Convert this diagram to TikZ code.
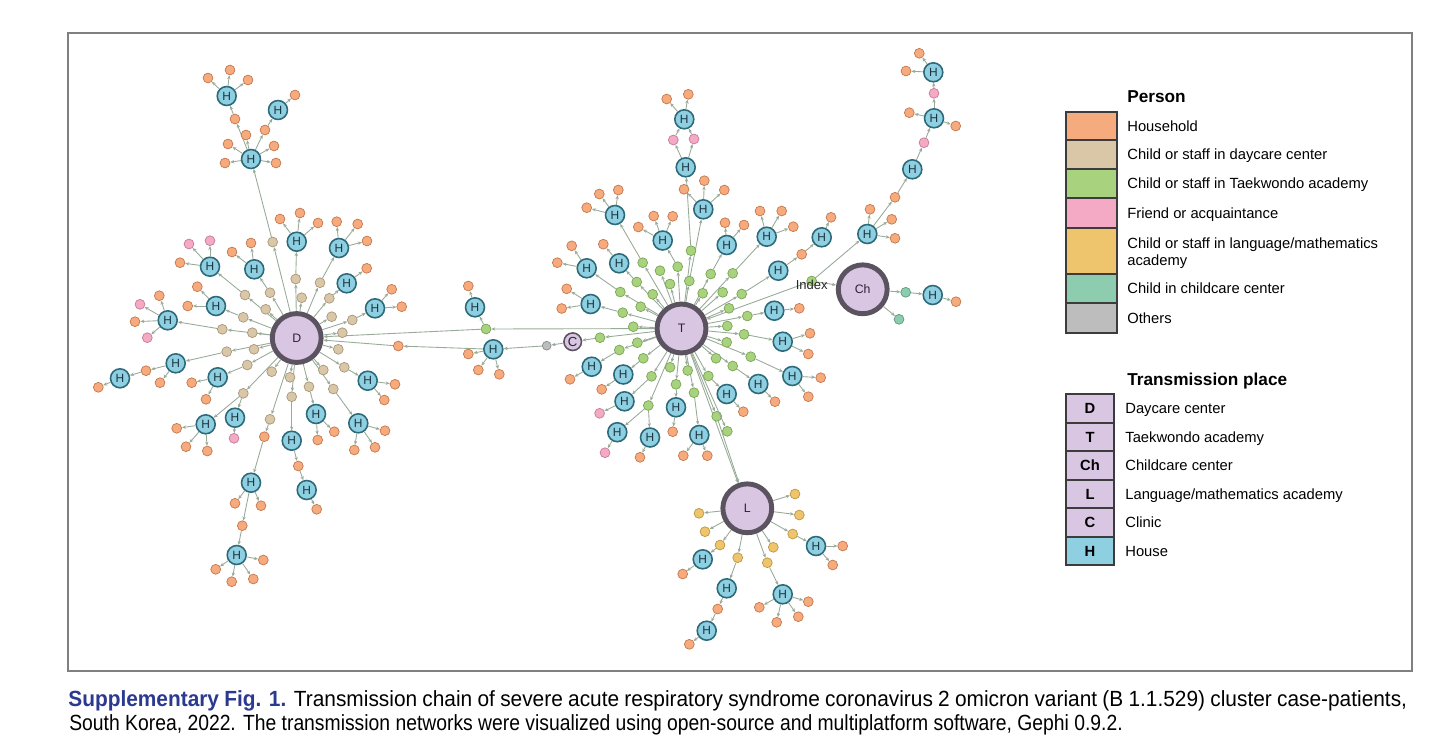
\documentclass[tikz,border=0pt]{standalone}
\usepackage{fontspec}
\setmainfont{Liberation Sans}
\newfontfamily\legfont[FakeStretch=0.88]{Liberation Sans}
\newfontfamily\legfontb[FakeStretch=0.95]{Liberation Sans}
\usetikzlibrary{arrows.meta,backgrounds}
%Cores
\definecolor{hhfill}{HTML}{F5AB7E}\definecolor{hhdraw}{HTML}{C7784C}
\definecolor{dcfill}{HTML}{D9C7A8}\definecolor{dcdraw}{HTML}{A8977A}
\definecolor{tkfill}{HTML}{A8D27E}\definecolor{tkdraw}{HTML}{7AA653}
\definecolor{frfill}{HTML}{F4A9C5}\definecolor{frdraw}{HTML}{C67B98}
\definecolor{lmfill}{HTML}{EEC56C}\definecolor{lmdraw}{HTML}{BE9741}
\definecolor{ccfill}{HTML}{8DCCAF}\definecolor{ccdraw}{HTML}{5A9C80}
\definecolor{otfill}{HTML}{BDBDBD}\definecolor{otdraw}{HTML}{8C8C8C}
\definecolor{casafill}{HTML}{8ED0E1}\definecolor{casadraw}{HTML}{2D6A79}\definecolor{casatxt}{HTML}{1B3440}
\definecolor{lugarfill}{HTML}{D8C6E2}\definecolor{lugardraw}{HTML}{5B5460}\definecolor{lugartxt}{HTML}{2B2233}
\definecolor{arestacor}{HTML}{98AA98}
\definecolor{caixacor}{HTML}{3C3C3C}
\definecolor{moldura}{HTML}{808080}
\definecolor{navy}{HTML}{2B3990}
\tikzset{
  pessoa/.style={circle, inner sep=0pt, minimum size=5.6pt, line width=0.4pt},
  hhold/.style={pessoa, fill=hhfill, draw=hhdraw},
  daycare/.style={pessoa, fill=dcfill, draw=dcdraw},
  taek/.style={pessoa, fill=tkfill, draw=tkdraw},
  friend/.style={pessoa, fill=frfill, draw=frdraw},
  langm/.style={pessoa, fill=lmfill, draw=lmdraw},
  childc/.style={pessoa, fill=ccfill, draw=ccdraw},
  othr/.style={pessoa, minimum size=5pt, fill=otfill, draw=otdraw},
  casa/.style={circle, inner sep=0pt, minimum size=10.8pt, fill=casafill, draw=casadraw, line width=0.9pt, text=casatxt, font=\fontsize{6.8}{6.8}\selectfont},
  lugar/.style={circle, inner sep=0pt, minimum size=27.8pt, fill=lugarfill, draw=lugardraw, line width=2.8pt, text=lugartxt, font=\fontsize{7}{7}\selectfont},
  clinica/.style={lugar, minimum size=10pt, line width=0.9pt, font=\fontsize{7.5}{7.5}\selectfont},
  aresta/.style={draw=arestacor, line width=0.5pt, -{Stealth[length=2.3pt,width=1.9pt]}},
  leg/.style={anchor=base west, inner sep=0pt, font=\fontsize{8.4}{9.6}\selectfont},
  legtit/.style={anchor=base west, inner sep=0pt, font=\fontsize{9.8}{11}\selectfont\bfseries},
  caixa/.style={draw=caixacor, line width=0.6pt},
}
\begin{document}
\begin{tikzpicture}[x=0.02cm, y=-0.02cm] %1 unidade = 1 pixel
\useasboundingbox (0,0) rectangle (1456,741);
	%Moldura
\draw[moldura, line width=0.8pt] (68,33) rectangle (1412,671);
	%Centros de transmissão
\node[lugar] (D) at (296.7,338) {D};
\node[lugar] (T) at (681.5,328.5) {T};
\node[lugar] (Ch) at (862.7,289.3) {Ch};
\node[lugar] (L) at (747.3,508.3) {L};
\node[clinica] (C) at (572.7,341.7) {C};
	%Casas
\foreach \n/\x/\y in {dh1/251/159, dh1a/226.7/96, dh1b/278/110, dh2/296.7/241.7, dh3/339/248, dh4/346.7/283.3,
  dh5/375/308.3, dh6/254.3/269.3, dh7/210/266.7, dh8/216/306, dh9/167.7/320.3, dh10/175.7/363.3,
  dh10a/120/378.3, dh11/217.7/377.3, dh12/205.7/424.3, dh13/235/417.7, dh14/251/482.7, dh14a/236.7/555,
  dh15/291.7/440.7, dh15a/306.7/490, dh16/316/414, dh17/358.3/423.3, dh18/367.7/380.7,
  bh1/493.3/349.3, bh2/475/307.3,
  th1/685.7/167.3, th1a/684.3/119.3, th2/703.3/209.3, th3/662.7/240.5, th4/615/215, th5/619.2/263.3,
  th6/586.7/268.3, th7/590.7/304, th8/591.7/366.7, th9/623.3/374.5, th10/624.5/401.3, th11/617.3/432.2,
  th12/650/437.5, th13/676/407.3, th14/699.3/435, th15/726.7/394, th16/758.3/384, th17/792.3/376,
  th18/782.7/341.7, th19/774.3/310.7, th20/778.3/270.7, th20a/821.7/237.3, th21/726.7/245, th22/766.7/236.7,
  ch1/867.3/234, ch2/912.3/169.3, ch3/934/118.3, ch4/933.3/72.3, ch5/932.7/295,
  lh1/702.7/559.3, lh2/726.7/588.3, lh2a/706.7/630.7, lh3/782.7/594.3, lh4/816/546}
  \node[casa] (\n) at (\x,\y) {H};
	%Pessoas que ligam os ramos
\foreach \s/\n/\x/\y in {daycare/dt1/272.7/242, daycare/dt2/295.7/279, daycare/dt3/320/282.7,
  daycare/dt4/329.3/298.3, daycare/dt5/352.3/320, daycare/dt10/270/292.7, daycare/dt11/245/295,
  daycare/dt13/243.3/317.3, daycare/dt15/222.3/329.3, daycare/dt17/226.7/351.7, daycare/dt18/247.3/365,
  daycare/dt20/243.3/393.3, daycare/dt21/270/419.3, daycare/dt23/291.7/396.7, daycare/dt24/309/386.7,
  daycare/dt26/333.3/389, daycare/dt27/344.3/367.3,
  hhold/do1/264.3/436.7, hhold/do2/235/119, hhold/do3/265/130, hhold/do4/146/370.7,
  hhold/do5/242.3/525.7, hhold/do6/298.3/466, hhold/do7/398.3/346,
  taek/bg1/486/329, othr/bo1/546.7/345.7,
  taek/tg1/691/250.7, taek/tg2/689.3/281, taek/tg3/677.7/266.7, taek/tg5/642.7/262.7, taek/tg6/636.7/282,
  taek/tg7/620.3/292, taek/tg8/622.7/312.7, taek/tg9/600/337.7, taek/tg11/619.3/350, taek/tg12/643.3/358.3,
  taek/tg14/651.5/376.3, taek/tg15/648.3/405.5, taek/tg17/676/384.3, taek/tg19/694/392.7,
  taek/tg20/708.3/376, taek/tg21/716.7/416.3, taek/tg23/732.7/366, taek/tg24/750.7/356.7,
  taek/tg25/744/334.3, taek/tg26/747.3/316, taek/tg31/741.7/294, taek/tg33/710.7/274, taek/tg34/732.7/273.3,
  taek/ix/811.7/281, friend/tp1/673.3/140, friend/tp2/694/139, hhold/to1/801.7/254.3,
  hhold/co1/895/197.3, friend/cp1/924/142.7, friend/cp2/934/93.3, childc/cc1/905.7/292.3,
  langm/ly5/720/545, langm/ly6/737.7/557.7, langm/ly8/767.3/562.7, langm/ly9/792.7/534, hhold/lo1/717.7/609}
  \node[\s] (\n) at (\x,\y) {};
\node[inner sep=0pt, text=black!85, font=\fontsize{7.4}{7.4}\selectfont] (ixlab) at (811.7,284.5) {Index};
	%Ligações
\begin{scope}[on background layer]
\foreach \a/\b in {D/dt1, dt1/dh1, dh1/do2, do2/dh1a, dh1/do3, do3/dh1b,
  D/dt2, dt2/dh2, D/dt3, dt3/dh3, D/dt4, dt4/dh4, D/dt5, dt5/dh5,
  D/dt10, dt10/dh6, D/dt11, dt11/dh7, D/dt13, dt13/dh8, D/dt15, dt15/dh9,
  D/dt17, dt17/dh10, dh10/do4, do4/dh10a, D/dt18, dt18/dh11,
  D/dt20, dt20/dh12, dt20/dh13, D/dt21, dt21/do1, do1/dh14, dh14/do5, do5/dh14a,
  D/dt23, dt23/dh15, dh15/do6, do6/dh15a, D/dt24, dt24/dh16, D/dt26, dt26/dh17, D/dt27, dt27/dh18,
  bh1/do7, do7/D, T/bg1, bg1/D, bg1/bh2, T/tg9, tg9/C, C/bo1, bo1/bh1,
  T/tg1, tg1/th1, th1/tp1, th1/tp2, tp1/th1a, tp2/th1a,
  T/tg2, tg2/th2, T/tg3, tg3/th3, T/tg5, tg5/th4, T/tg6, tg6/th5, T/tg7, tg7/th6, T/tg8, tg8/th7,
  T/tg11, tg11/th8, T/tg12, tg12/th9, T/tg14, tg14/th10, T/tg15, tg15/th11, tg15/th12,
  T/tg17, tg17/th13, T/tg19, tg19/th14, T/tg20, tg20/th15, T/tg21, tg21/L, T/L,
  T/tg23, tg23/th16, T/tg24, tg24/th17, T/tg25, tg25/th18, T/tg26, tg26/th19,
  T/tg31, tg31/th20, th20/to1, to1/th20a, T/tg33, tg33/th21, T/tg34, tg34/th22,
  ix/T, ix/Ch, ix/ch1, ch1/co1, co1/ch2, ch2/cp1, cp1/ch3, ch3/cp2, cp2/ch4, Ch/cc1, cc1/ch5,
  L/ly5, ly5/lh1, L/ly6, ly6/lh2, lh2/lo1, lo1/lh2a, L/ly8, ly8/lh3, L/ly9, ly9/lh4}
  \draw[aresta] (\a) -- (\b);
\end{scope}
	%Folhas (pessoas sem descendentes)
\foreach \p/\s/\x/\y [count=\i] in {D/daycare/331.7/316.7, D/daycare/342.3/332.7, D/daycare/338.3/349.3,
  D/daycare/301.7/297.7, D/daycare/265.7/309.3, D/daycare/252.3/332.7, D/daycare/254/349.3,
  D/daycare/271.7/371.7, D/daycare/290/377.3, D/daycare/323.3/370,
  dh1/hhold/228/144, dh1/hhold/225/163, dh1/hhold/274/146, dh1/hhold/276/163, dh1/hhold/246/135,
  dh1a/hhold/208/78, dh1a/hhold/230/70, dh1a/hhold/248/80, dh1b/hhold/295/95,
  dh2/hhold/280/219, dh2/hhold/300/213, dh2/hhold/318/223,
  dh3/hhold/336.7/221.7, dh3/hhold/357.7/224, dh3/hhold/367/241, dh4/hhold/366.7/268.3,
  dh5/hhold/391.7/289.3, dh5/hhold/401.7/306.7, dh6/hhold/232/252, dh6/hhold/251/243,
  dh7/friend/189/244, dh7/friend/210/240.7, dh7/hhold/180/262.7, dh8/hhold/197.3/286.7, dh8/hhold/187.7/306,
  dh9/friend/140/304.3, dh9/hhold/159.3/295.7, dh9/hhold/135/321.7, dh9/friend/147.3/337.7,
  dh10/hhold/160/382.7, dh10a/hhold/98.3/387.3, dh11/hhold/191.7/382.7, dh11/hhold/206/399.3,
  dh12/hhold/176.7/428.3, dh12/hhold/186/446.7, dh12/hhold/207.3/451, dh13/friend/234/438.3,
  dh14/hhold/235/503.3, dh14/hhold/261/505.7,
  dh14a/hhold/215.7/569.3, dh14a/hhold/231.7/581.7, dh14a/hhold/253.3/579, dh14a/hhold/263.3/560,
  dh15a/hhold/316.7/509.3, dh16/hhold/317.7/440, dh16/hhold/334.3/431.7,
  dh17/hhold/385/430.7, dh17/hhold/354.3/450, dh17/hhold/375/447.3, dh18/hhold/395/384.3, dh18/hhold/384.3/400,
  bh1/hhold/468.3/354, bh1/hhold/478.3/370, bh1/hhold/499.3/374.3, bh2/hhold/468.3/286,
  T/taek/660/270.7, T/taek/633.3/326.7, T/taek/637.3/342.7, T/taek/670/367.3, T/taek/687.7/370.5,
  T/taek/727.3/431.3, T/taek/727.3/326, T/taek/726.7/342.3, T/taek/716/358.3, T/taek/729/308.3,
  T/taek/722.7/292.3, T/taek/702.7/293.3, T/taek/670/284, T/taek/652.7/294.3, T/taek/640.7/306.7,
  th1a/hhold/666.7/99, th1a/hhold/688.3/94.3, th2/hhold/684/189.3, th2/hhold/704.3/180.7, th2/hhold/724.3/190,
  th3/hhold/638.3/227, th3/hhold/653.7/216, th3/hhold/672.7/216.3,
  th4/hhold/599.3/194, th4/hhold/618.3/190, th4/hhold/586.7/207.7, th5/hhold/603.3/244.2,
  th6/hhold/571.7/245.8, th6/hhold/557.3/262.7, th7/hhold/566.7/288.8, th7/hhold/561.7/308.5,
  th8/hhold/570/379.3, th9/hhold/601.7/389.3, th10/friend/599.6/413.3, th11/friend/605/452.7,
  th12/hhold/640/457.3, th13/hhold/672.7/431.7, th14/hhold/683.3/455.7, th14/hhold/707.3/455.7,
  th15/hhold/743.3/411.7, th16/hhold/775/401.7, th17/hhold/820.7/377.7, th17/hhold/808.3/396.7,
  th18/hhold/810/333.3, th18/hhold/808.3/354, th19/hhold/799.3/308.3, th20a/hhold/831/217.3,
  th21/hhold/725/222.7, th21/hhold/744/225, th22/hhold/760/211, th22/hhold/781.7/211, th22/hhold/793.3/226.7,
  ch1/hhold/870/209.3, ch1/hhold/891.7/219.3, ch1/hhold/895/238.3, ch3/hhold/909.3/112.7, ch3/hhold/955.7/126,
  ch4/hhold/906/71, ch4/hhold/919.3/53.3, ch5/hhold/956/301.7, Ch/childc/899/319.3,
  L/langm/795/494, L/langm/799.3/515, L/langm/699/513.3, L/langm/705/531.7, L/langm/773.3/547.3,
  lh1/hhold/682.7/574, lh2a/hhold/689.3/644.3,
  lh3/hhold/759.3/607.3, lh3/hhold/776.7/622.3, lh3/hhold/798.3/616.7, lh3/hhold/808.3/601.7,
  lh4/hhold/842.7/546, lh4/hhold/832.7/565}
  {\node[\s] (f\i) at (\x,\y) {}; \draw[aresta] (\p) -- (f\i);}
	%Legenda: pessoa
\node[legtit] (tpes) at (1127,102) {Person};
\foreach \c/\a/\b in {hhfill/112/140, dcfill/140/169, tkfill/169/198, frfill/198/228, lmfill/228/274, ccfill/274/303, otfill/303/333}
  \draw[caixa, fill=\c] (1066,\a) rectangle (1117,\b);
\node[leg] (lp1) at (1127,131.3) {Household};
\node[leg] (lp2) at (1127,159.8) {Child or staff in daycare center};
\node[leg] (lp3) at (1127,188.8) {Child or staff in Taekwondo academy};
\node[leg] (lp4) at (1127,218.3) {Friend or acquaintance};
\node[leg] (lp5) at (1127,248.3) {Child or staff in language/mathematics};
\node[leg] (lp5b) at (1127,265.8) {academy};
\node[leg] (lp6) at (1127,293.8) {Child in childcare center};
\node[leg] (lp7) at (1127,323.3) {Others};
	%Legenda: local de transmissão
\node[legtit] (tlug) at (1127,385) {Transmission place};
\foreach \t/\a/\b/\c in {D/394/423/lugarfill, T/423/451/lugarfill, Ch/451/480/lugarfill, L/480/508/lugarfill, C/508/537/lugarfill, H/537/565/casafill}
  {\draw[caixa, fill=\c] (1066,\a) rectangle (1114,\b);
   \node[inner sep=0pt, font=\fontsize{8.4}{9}\selectfont\bfseries] (lb\t) at (1090,{(\a+\b)/2}) {\t};}
\node[leg] (ll1) at (1125,413.8) {Daycare center};
\node[leg] (ll2) at (1125,442.3) {Taekwondo academy};
\node[leg] (ll3) at (1125,470.8) {Childcare center};
\node[leg] (ll4) at (1125,499.3) {Language/mathematics academy};
\node[leg] (ll5) at (1125,527.8) {Clinic};
\node[leg] (ll6) at (1125,556.3) {House};
	%Texto da figura
\node[anchor=base west, inner sep=0pt, font=\legfontb\fontsize{12.5}{15}\selectfont] (cap1) at (68,706)
  {\makebox[762pt][s]{\textcolor{navy}{\bfseries Supplementary Fig. 1.} Transmission chain of severe acute respiratory syndrome coronavirus 2 omicron variant (B 1.1.529) cluster case-patients,}};
\node[anchor=base west, inner sep=0pt, font=\legfont\fontsize{12.5}{15}\selectfont] (cap2) at (69,730)
  {South Korea, 2022. The transmission networks were visualized using open-source and multiplatform software, Gephi 0.9.2.};
\end{tikzpicture}
\end{document}
